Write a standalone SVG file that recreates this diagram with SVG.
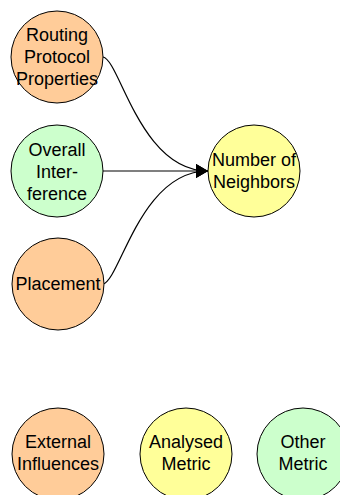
<svg xmlns="http://www.w3.org/2000/svg" width="340" height="495" viewBox="0 0 340 495">
<defs>
<style>
.n{stroke:#000;stroke-width:1}
.ext{fill:#ffcc99}
.ana{fill:#ffff99}
.oth{fill:#ccffcc}
text{font-family:"Liberation Sans",Arial,sans-serif;font-size:18px;text-anchor:middle;fill:#000}
.e{fill:none;stroke:#000;stroke-width:1.2}
</style>
<marker id="ah" markerUnits="userSpaceOnUse" markerWidth="14" markerHeight="14" refX="12" refY="7" orient="auto">
<path d="M0,0 L12,7 L0,14 z" fill="#000"/>
</marker>
</defs>
<g id="edges">
<path class="e" d="M103,57 C120,60 140,171 208,171" marker-end="url(#ah)"/>
<path class="e" d="M103,171 L208,171" marker-end="url(#ah)"/>
<path class="e" d="M103,284 C120,281 140,171 208,171" marker-end="url(#ah)"/>
</g>
<g id="routing">
<circle class="n ext" cx="57" cy="57" r="46"/>
<text x="57" y="41">Routing</text>
<text x="57" y="63">Protocol</text>
<text x="57" y="85">Properties</text>
</g>
<g id="interference">
<circle class="n oth" cx="57" cy="171" r="46"/>
<text x="57" y="156">Overall</text>
<text x="57" y="178">Inter-</text>
<text x="57" y="200">ference</text>
</g>
<g id="placement">
<circle class="n ext" cx="58" cy="284" r="46"/>
<text x="58" y="290">Placement</text>
</g>
<g id="neighbors">
<circle class="n ana" cx="254" cy="171" r="46"/>
<text x="254" y="166">Number of</text>
<text x="254" y="188">Neighbors</text>
</g>
<g id="legend-external">
<circle class="n ext" cx="58" cy="454" r="46"/>
<text x="58" y="448">External</text>
<text x="58" y="470">Influences</text>
</g>
<g id="legend-analysed">
<circle class="n ana" cx="186" cy="454" r="46"/>
<text x="186" y="448">Analysed</text>
<text x="186" y="470">Metric</text>
</g>
<g id="legend-other">
<circle class="n oth" cx="303" cy="454" r="46"/>
<text x="303" y="448">Other</text>
<text x="303" y="470">Metric</text>
</g>
</svg>
